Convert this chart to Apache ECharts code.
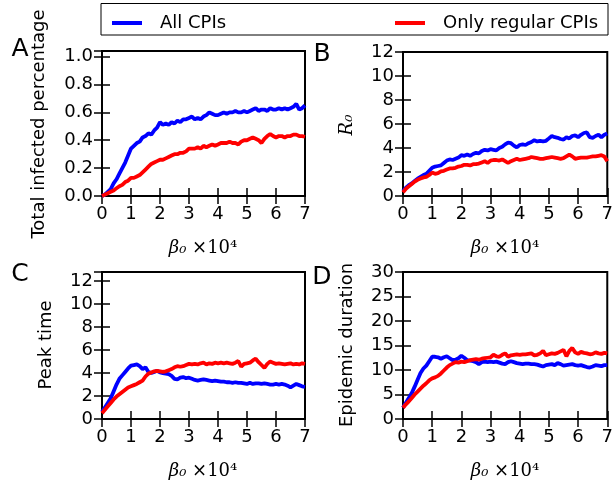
<!DOCTYPE html>
<html style="height: 100%">
<head>
<meta charset="utf-8">
<script src="https://cdn.jsdelivr.net/npm/echarts@6/dist/echarts.min.js"></script>
</head>
<body style="height: 100%; margin: 0; background: #fff">
<div id="container" style="width: 616px; height: 491px"></div>
<script type="text/javascript">
// beta_0 (x 10^4)
var betaValues = [0.0,0.1,0.2,0.3,0.4,0.5,0.6,0.7,0.8,0.9,1.0,1.1,1.2,1.3,1.4,1.5,1.6,1.7,1.8,1.9,
  2.0,2.1,2.2,2.3,2.4,2.5,2.6,2.7,2.8,2.9,3.0,3.1,3.2,3.3,3.4,3.5,3.6,3.7,3.8,3.9,
  4.0,4.1,4.2,4.3,4.4,4.5,4.6,4.7,4.8,4.9,5.0,5.1,5.2,5.3,5.4,5.5,5.6,5.7,5.8,5.9,
  6.0,6.1,6.2,6.3,6.4,6.5,6.6,6.7,6.8,6.9,7.0];

// A: total infected percentage
var infectedAll = [0.00,0.01,0.03,0.05,0.09,0.12,0.16,0.20,0.24,0.29,0.34,0.36,0.38,0.39,0.42,0.43,0.45,0.44,0.47,0.49,
  0.53,0.51,0.52,0.51,0.53,0.52,0.54,0.53,0.55,0.55,0.56,0.57,0.55,0.56,0.55,0.57,0.58,0.60,0.59,0.58,
  0.58,0.59,0.60,0.59,0.60,0.60,0.61,0.60,0.60,0.61,0.60,0.61,0.62,0.63,0.61,0.62,0.62,0.61,0.63,0.62,
  0.62,0.63,0.62,0.63,0.62,0.63,0.64,0.66,0.62,0.63,0.65];
var infectedRegular = [0.00,0.01,0.02,0.03,0.04,0.055,0.07,0.08,0.10,0.11,0.13,0.13,0.14,0.15,0.17,0.19,0.21,0.23,0.24,0.25,
  0.26,0.26,0.27,0.28,0.29,0.30,0.30,0.31,0.31,0.32,0.34,0.34,0.34,0.35,0.34,0.36,0.35,0.36,0.37,0.36,
  0.37,0.38,0.38,0.38,0.39,0.38,0.38,0.37,0.39,0.40,0.40,0.41,0.42,0.41,0.40,0.38,0.41,0.43,0.445,0.43,
  0.42,0.43,0.43,0.42,0.43,0.43,0.44,0.44,0.43,0.43,0.425];

// B: R0
var r0All = [0.4,0.7,0.9,1.05,1.25,1.45,1.6,1.75,1.85,2.1,2.35,2.45,2.5,2.55,2.75,2.95,3.05,3.0,3.1,3.2,
  3.4,3.35,3.45,3.35,3.5,3.6,3.55,3.75,3.85,3.8,3.9,3.85,3.8,4.0,4.1,4.3,4.45,4.4,4.2,4.05,
  4.25,4.3,4.25,4.4,4.5,4.65,4.55,4.6,4.55,4.6,4.8,5.0,4.9,4.85,4.75,4.7,4.9,4.8,5.0,5.05,
  4.9,5.1,5.25,5.3,4.9,4.85,5.0,5.1,4.9,5.1,5.2];
var r0Regular = [0.3,0.6,0.8,1.0,1.2,1.35,1.45,1.55,1.6,1.75,1.95,1.85,1.9,2.05,2.1,2.2,2.3,2.3,2.35,2.45,
  2.5,2.6,2.6,2.55,2.65,2.65,2.7,2.8,2.9,2.75,2.95,3.0,3.0,2.95,3.05,2.9,2.75,2.9,3.0,3.1,
  3.0,3.05,3.1,3.15,3.25,3.2,3.15,3.1,3.1,3.15,3.2,3.25,3.2,3.15,3.1,3.15,3.3,3.45,3.3,3.1,
  3.15,3.2,3.2,3.2,3.25,3.3,3.3,3.35,3.4,3.3,2.9];

// C: peak time
var peakAll = [0.6,1.0,1.4,1.8,2.4,3.0,3.5,3.8,4.1,4.4,4.65,4.7,4.75,4.6,4.35,4.5,4.1,4.0,4.1,4.2,
  4.05,4.0,3.95,3.9,3.75,3.5,3.45,3.6,3.65,3.55,3.6,3.5,3.4,3.35,3.4,3.45,3.4,3.35,3.3,3.35,
  3.3,3.25,3.25,3.2,3.2,3.15,3.2,3.15,3.15,3.1,3.05,3.15,3.05,3.1,3.1,3.05,3.1,3.05,3.0,3.0,
  3.05,3.0,3.05,3.0,2.9,2.75,2.9,3.05,2.95,2.85,2.8];
var peakRegular = [0.5,0.8,1.1,1.4,1.7,1.95,2.15,2.35,2.55,2.75,2.85,2.95,3.05,3.2,3.35,3.7,3.95,4.05,4.15,4.2,
  4.15,4.1,4.15,4.25,4.35,4.5,4.6,4.55,4.6,4.7,4.8,4.75,4.8,4.75,4.85,4.9,4.75,4.85,4.8,4.9,
  4.85,4.9,4.85,4.9,4.85,4.8,4.9,5.05,4.55,4.8,4.85,4.9,5.1,5.25,4.95,4.7,4.45,4.8,5.0,4.9,
  4.8,4.85,4.8,4.75,4.8,4.85,4.75,4.8,4.75,4.85,4.8];

// D: epidemic duration
var durationAll = [2.3,3.3,4.3,5.3,6.6,8.0,9.4,10.3,10.9,11.8,12.7,12.7,12.6,12.3,12.6,12.8,12.4,12.0,12.1,12.4,
  12.9,12.5,12.0,11.9,11.8,11.6,11.2,11.6,11.7,11.6,11.7,11.6,11.7,11.5,11.3,11.2,11.6,11.8,11.6,11.4,
  11.3,11.2,11.3,11.3,11.2,11.2,11.1,10.9,10.7,11.0,11.1,11.2,11.0,11.4,11.2,10.9,11.0,11.1,11.2,11.0,
  10.9,11.0,10.8,10.6,10.5,10.7,11.0,10.9,10.8,11.0,11.0];
var durationRegular = [2.3,3.0,3.6,4.3,5.0,5.6,6.2,6.8,7.3,7.9,8.3,8.5,8.8,9.3,9.9,10.5,11.0,11.3,11.6,11.5,
  11.7,11.6,11.8,12.0,12.1,12.2,12.1,12.3,12.4,12.5,12.6,13.1,12.8,12.7,13.1,13.4,12.7,13.0,13.1,13.2,
  13.1,13.2,13.2,13.3,13.4,13.0,13.1,13.4,13.9,13.0,13.2,13.4,13.3,13.5,13.8,14.1,12.8,13.9,14.5,13.6,
  13.3,13.7,13.5,13.4,13.2,13.3,13.6,13.4,13.3,13.5,13.4];

var seriesNames = ['All CPIs', 'Only regular CPIs'];
var seriesColors = ['#0000ff', '#ff0000'];
var yMax = [1.04, 12, 12.8, 30];
var yStep = [0.2, 2, 2, 5];

var panels = [
  [infectedAll, infectedRegular],
  [r0All, r0Regular],
  [peakAll, peakRegular],
  [durationAll, durationRegular]
];

var dom = document.getElementById('container');
var myChart = echarts.init(dom, null, {renderer: 'canvas'});
var font = 'DejaVu Sans';

var grids = [
  {left: 102, top: 51, width: 203, height: 145},
  {left: 403, top: 52, width: 205, height: 144},
  {left: 102, top: 272, width: 203, height: 147},
  {left: 403, top: 272, width: 205, height: 147}
];
grids.forEach(function (g) {
  g.show = true;
  g.borderColor = '#000';
  g.borderWidth = 2;
  g.backgroundColor = 'transparent';
});

function pairs(vals) {
  return vals.map(function (v, i) { return [betaValues[i], v]; });
}

var tick = {show: true, inside: true, length: 8, lineStyle: {color: '#000', width: 1.5}};
var xAxes = [], yAxes = [], series = [];
for (var i = 0; i < 4; i++) {
  xAxes.push({
    type: 'value', gridIndex: i, min: 0, max: 7, interval: 1,
    axisLine: {show: false}, axisTick: tick, splitLine: {show: false},
    axisLabel: {color: '#000', fontFamily: font, fontSize: 18, margin: 9}
  });
  xAxes.push({
    type: 'value', gridIndex: i, position: 'top', min: 0, max: 7, interval: 1,
    axisLine: {show: false}, axisTick: tick, splitLine: {show: false},
    axisLabel: {show: false}
  });
  (function (k) {
    yAxes.push({
      type: 'value', gridIndex: k, min: 0, max: yMax[k], interval: yStep[k],
      axisLine: {show: false}, axisTick: tick, splitLine: {show: false},
      axisLabel: {
        color: '#000', fontFamily: font, fontSize: 18, margin: 9,
        showMaxLabel: yMax[k] % yStep[k] === 0,
        formatter: function (v) { return k === 0 ? v.toFixed(1) : String(v); }
      }
    });
  })(i);
  yAxes.push({
    type: 'value', gridIndex: i, position: 'right', min: 0, max: yMax[i], interval: yStep[i],
    axisLine: {show: false}, axisTick: tick, splitLine: {show: false},
    axisLabel: {show: false}
  });
  for (var s = 0; s < 2; s++) {
    series.push({
      name: seriesNames[s], type: 'line', xAxisIndex: i * 2, yAxisIndex: i * 2,
      data: pairs(panels[i][s]), showSymbol: false, symbol: 'none',
      lineStyle: {color: seriesColors[s], width: 3.8}, itemStyle: {color: seriesColors[s]},
      animation: false, z: 2 + s
    });
  }
}

function label(text, x, y, opts) {
  opts = opts || {};
  return {
    type: 'text', x: x, y: y, rotation: opts.rot || 0, z: 10,
    style: {
      text: text, fill: '#000', font: (opts.font || '18px "DejaVu Sans"'),
      textAlign: 'center', textVerticalAlign: 'middle', rich: opts.rich
    }
  };
}

var betaRich = {
  b: {fontFamily: 'DejaVu Serif', fontStyle: 'italic', fontSize: 18, fill: '#000'},
  n: {fontFamily: 'DejaVu Serif', fontSize: 18, fill: '#000'}
};
var betaText = '{b|\u03b2\u2080}{n| \u00d710\u2074}';

option = {
  animation: false,
  backgroundColor: '#fff',
  grid: grids,
  xAxis: xAxes,
  yAxis: yAxes,
  series: series,
  legend: [
    {data: [seriesNames[0]], left: 107, top: 9, icon: 'rect', itemWidth: 30, itemHeight: 4,
     textStyle: {fontFamily: font, fontSize: 18, color: '#000', padding: [0, 0, 0, 13]}},
    {data: [seriesNames[1]], left: 390, top: 9, icon: 'rect', itemWidth: 30, itemHeight: 4,
     textStyle: {fontFamily: font, fontSize: 18, color: '#000', padding: [0, 0, 0, 13]}}
  ],
  graphic: [
    {type: 'rect', shape: {x: 101, y: 3.5, width: 507, height: 31.5},
     style: {fill: 'none', stroke: '#000', lineWidth: 1}, z: 1},
    label('A', 20, 49, {font: '25px "DejaVu Sans"'}),
    label('B', 322, 54, {font: '25px "DejaVu Sans"'}),
    label('C', 20, 274, {font: '25px "DejaVu Sans"'}),
    label('D', 322, 277, {font: '25px "DejaVu Sans"'}),
    label('Total infected percentage', 39, 124, {rot: Math.PI / 2}),
    label('R\u2080', 347, 125, {rot: Math.PI / 2, font: 'italic 18px "DejaVu Serif"'}),
    label('Peak time', 46, 345, {rot: Math.PI / 2}),
    label('Epidemic duration', 347, 345, {rot: Math.PI / 2}),
    label(betaText, 203, 248, {rich: betaRich}),
    label(betaText, 505, 248, {rich: betaRich}),
    label(betaText, 203, 471, {rich: betaRich}),
    label(betaText, 505, 471, {rich: betaRich})
  ]
};

if (option && typeof option === 'object') {
  myChart.setOption(option);
}
</script>
</body>
</html>
